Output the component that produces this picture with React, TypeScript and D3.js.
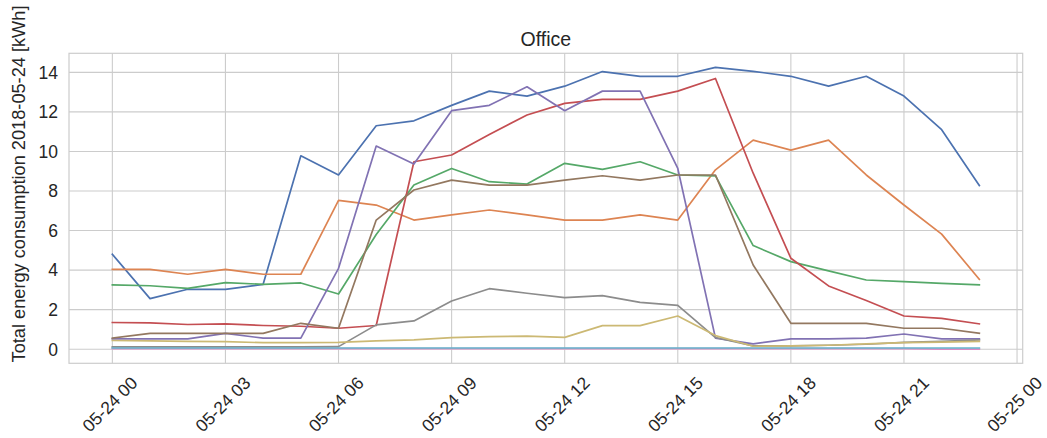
import React from 'react';
import * as d3 from 'd3';

// Hour of day for each reading (2018-05-24)
const hours = [0, 1, 2, 3, 4, 5, 6, 7, 8, 9, 10, 11, 12, 13, 14, 15, 16, 17, 18, 19, 20, 21, 22, 23];

// Hourly energy consumption per meter [kWh]
const meterA = [4.8, 2.56, 3.03, 3.03, 3.28, 9.78, 8.81, 11.3, 11.55, 12.33, 13.05, 12.8, 13.3, 14.04, 13.8, 13.8, 14.25, 14.05, 13.8, 13.3, 13.8, 12.8, 11.1, 8.28];
const meterB = [4.04, 4.04, 3.79, 4.04, 3.79, 3.79, 7.53, 7.29, 6.53, 6.79, 7.04, 6.79, 6.53, 6.53, 6.79, 6.53, 9.07, 10.57, 10.07, 10.57, 8.81, 7.29, 5.82, 3.53];
const meterC = [3.25, 3.21, 3.08, 3.37, 3.28, 3.35, 2.79, 5.8, 8.3, 9.14, 8.47, 8.35, 9.4, 9.09, 9.48, 8.81, 8.76, 5.24, 4.43, 3.96, 3.5, 3.42, 3.33, 3.25];
const meterD = [1.35, 1.33, 1.25, 1.28, 1.2, 1.16, 1.06, 1.2, 9.48, 9.82, 10.86, 11.84, 12.43, 12.63, 12.63, 13.05, 13.69, 8.9, 4.6, 3.2, 2.46, 1.68, 1.56, 1.28];
const meterE = [0.52, 0.52, 0.52, 0.8, 0.56, 0.56, 4.09, 10.27, 9.36, 12.06, 12.33, 13.27, 12.06, 13.05, 13.05, 9.14, 0.56, 0.27, 0.52, 0.52, 0.56, 0.77, 0.52, 0.52];
const meterF = [0.56, 0.8, 0.8, 0.8, 0.8, 1.31, 1.06, 6.53, 8.05, 8.55, 8.3, 8.3, 8.55, 8.77, 8.55, 8.81, 8.81, 4.26, 1.31, 1.31, 1.31, 1.06, 1.06, 0.81];
const meterG = [0.03, 0.03, 0.03, 0.03, 0.03, 0.03, 0.03, 0.03, 0.03, 0.03, 0.03, 0.03, 0.03, 0.03, 0.03, 0.03, 0.03, 0.03, 0.03, 0.03, 0.03, 0.03, 0.0, 0.0];
const meterH = [0.12, 0.12, 0.12, 0.12, 0.12, 0.12, 0.13, 1.23, 1.43, 2.44, 3.06, 2.83, 2.61, 2.71, 2.37, 2.22, 0.59, 0.17, 0.17, 0.2, 0.25, 0.35, 0.4, 0.47];
const meterI = [0.44, 0.42, 0.4, 0.38, 0.33, 0.33, 0.35, 0.42, 0.47, 0.59, 0.64, 0.66, 0.6, 1.19, 1.19, 1.68, 0.69, 0.15, 0.17, 0.2, 0.27, 0.33, 0.36, 0.4];
const meterJ = [0.06, 0.06, 0.06, 0.06, 0.06, 0.06, 0.06, 0.06, 0.06, 0.06, 0.06, 0.06, 0.06, 0.06, 0.06, 0.06, 0.06, 0.06, 0.06, 0.06, 0.06, 0.06, 0.06, 0.06];

const seriesValues = [meterA, meterB, meterC, meterD, meterE, meterF, meterG, meterH, meterI, meterJ];

// seaborn "deep" palette
const palette = ['#4C72B0', '#DD8452', '#55A868', '#C44E52', '#8172B3', '#937860', '#DA8BC3', '#8C8C8C', '#CCB974', '#64B5CD'];

const yTicks = [0, 2, 4, 6, 8, 10, 12, 14];
const chartTitle = 'Office';
const yAxisLabel = 'Total energy consumption 2018-05-24 [kWh]';

const WIDTH = 1047;
const HEIGHT = 438;
const PLOT = { left: 69, right: 1022.7, top: 53.3, bottom: 363.3 };
const TEXT = '#262626';
const GRID = '#cccccc';
const FONT = '"Liberation Sans", Arial, Helvetica, sans-serif';

export default function App() {
  const day = new Date(2018, 4, 24, 0, 0, 0);
  const at = (h: number) => new Date(day.getTime() + h * 3600 * 1000);

  const span = hours[hours.length - 1] - hours[0];
  const x = d3
    .scaleTime()
    .domain([at(hours[0] - span * 0.05), at(hours[hours.length - 1] + span * 0.05)])
    .range([PLOT.left, PLOT.right]);

  const all = seriesValues.flat();
  const lo = d3.min(all) as number;
  const hi = d3.max(all) as number;
  const pad = (hi - lo) * 0.05;
  const y = d3.scaleLinear().domain([lo - pad, hi + pad]).range([PLOT.bottom, PLOT.top]);

  const xTicks = x.ticks(d3.timeHour.every(3) as d3.TimeInterval);
  const fmt = d3.timeFormat('%m-%d %H');

  const line = d3
    .line<number>()
    .x((_, i) => x(at(hours[i])))
    .y((d) => y(d));

  return (
    <svg
      width={WIDTH}
      height={HEIGHT}
      style={{ position: 'absolute', left: 0, top: 0, background: '#fff' }}
      fontFamily={FONT}
    >
      <rect x={0} y={0} width={WIDTH} height={HEIGHT} fill="#fff" />

      {/* grid */}
      <g stroke={GRID} strokeWidth={1.1}>
        {xTicks.map((t, i) => (
          <line key={'gx' + i} x1={x(t)} x2={x(t)} y1={PLOT.top} y2={PLOT.bottom} />
        ))}
        {yTicks.map((v) => (
          <line key={'gy' + v} x1={PLOT.left} x2={PLOT.right} y1={y(v)} y2={y(v)} />
        ))}
      </g>

      {/* series */}
      <g fill="none" strokeWidth={1.7} strokeLinejoin="round" strokeLinecap="square">
        {seriesValues.map((vals, i) => (
          <path key={'s' + i} d={line(vals) || ''} stroke={palette[i]} />
        ))}
      </g>

      {/* frame */}
      <rect
        x={PLOT.left}
        y={PLOT.top}
        width={PLOT.right - PLOT.left}
        height={PLOT.bottom - PLOT.top}
        fill="none"
        stroke={GRID}
        strokeWidth={1.2}
      />

      {/* y tick labels */}
      <g fill={TEXT} fontSize={17.5} textAnchor="end">
        {yTicks.map((v) => (
          <text key={'ty' + v} x={PLOT.left - 11} y={y(v)} dy="0.36em">
            {v}
          </text>
        ))}
      </g>

      {/* x tick labels, rotated 45 degrees */}
      <g fill={TEXT} fontSize={17.5} textAnchor="middle">
        {xTicks.map((t, i) => {
          const cx = x(t) - 2.5;
          const cy = PLOT.bottom + 41;
          return (
            <text
              key={'tx' + i}
              x={cx}
              y={cy}
              dy="0.35em"
              transform={`rotate(-45 ${cx} ${cy})`}
            >
              {fmt(t)}
            </text>
          );
        })}
      </g>

      <text
        x={(PLOT.left + PLOT.right) / 2}
        y={46}
        textAnchor="middle"
        fontSize={19.5}
        fill={TEXT}
      >
        {chartTitle}
      </text>

      <text
        transform={`translate(25, 184) rotate(-90)`}
        textAnchor="middle"
        fontSize={18.2}
        fill={TEXT}
      >
        {yAxisLabel}
      </text>
    </svg>
  );
}
